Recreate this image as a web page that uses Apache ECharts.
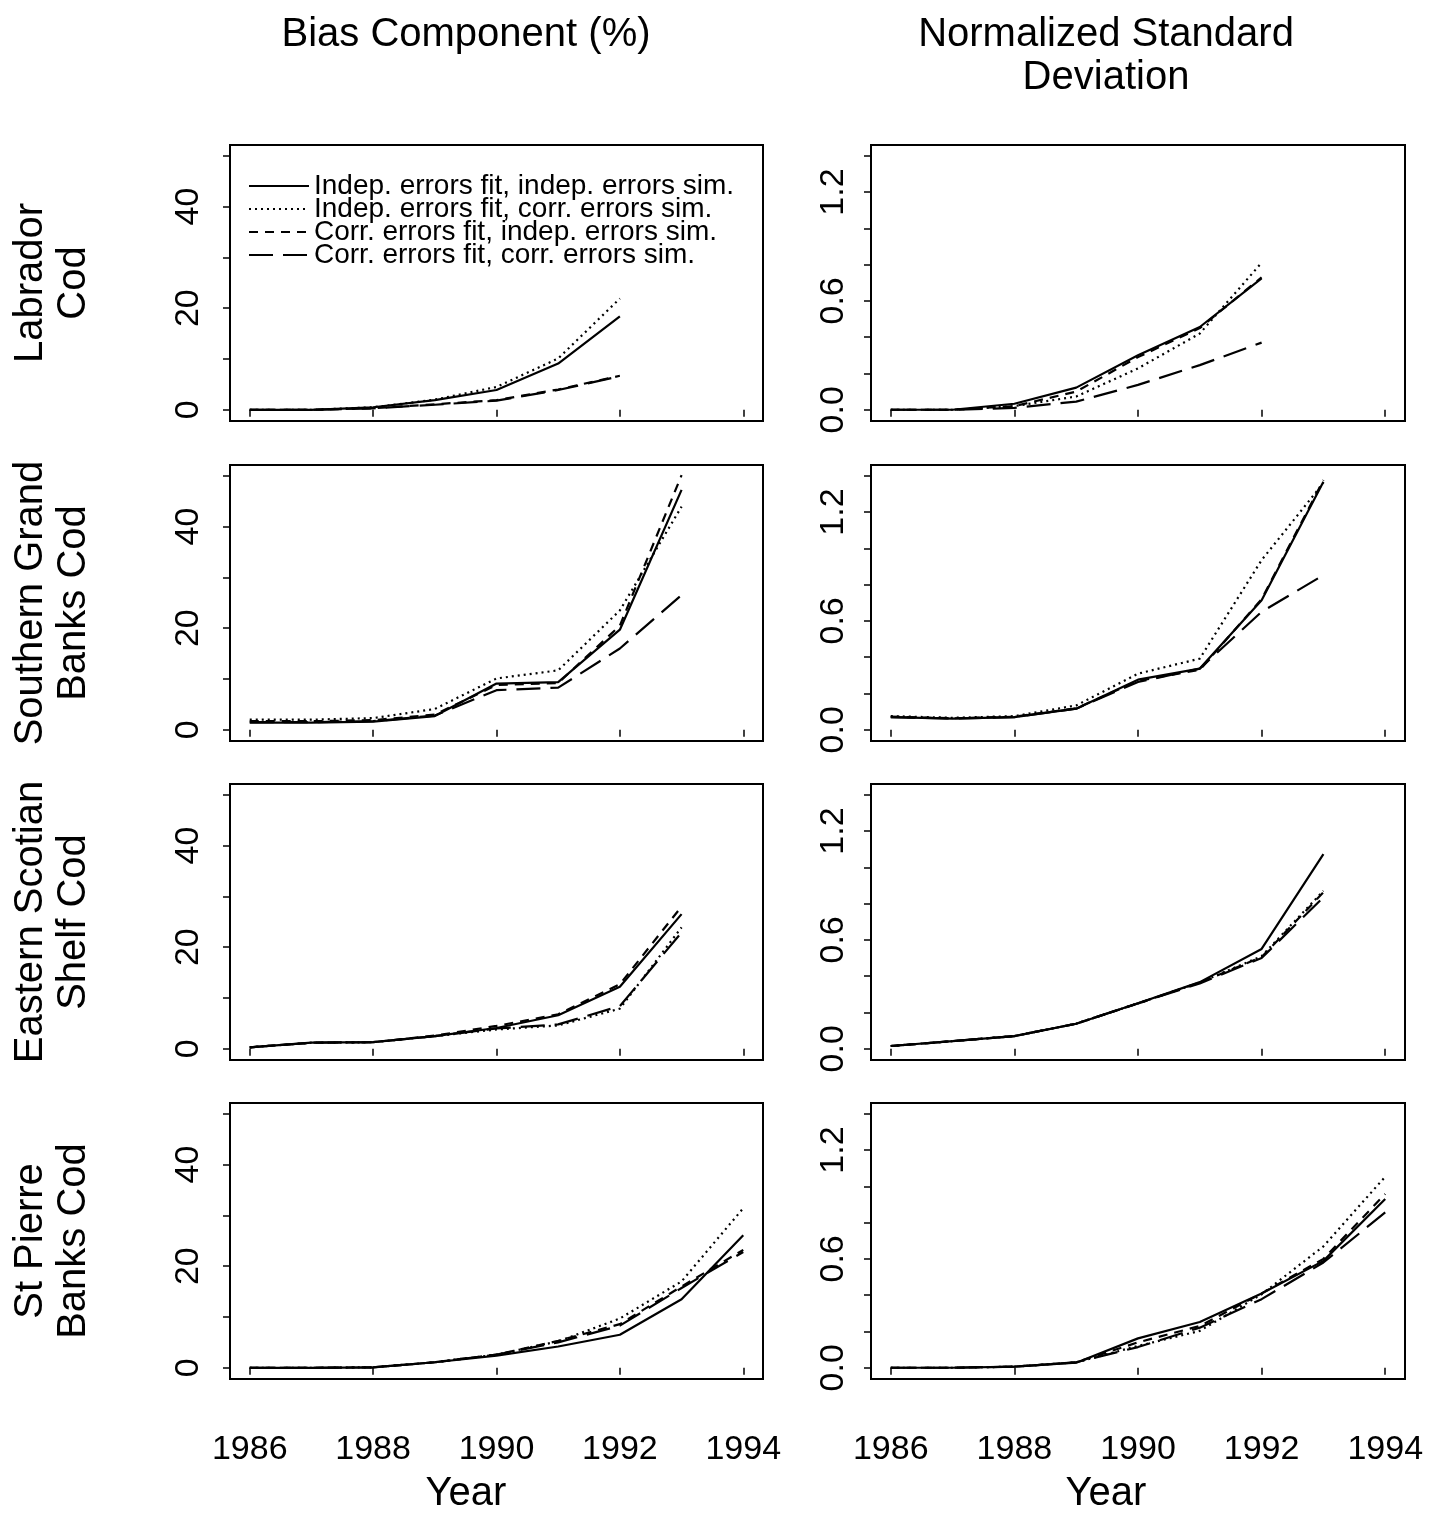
<!DOCTYPE html>
<html>
<head>
<meta charset="utf-8">
<script src="https://cdn.jsdelivr.net/npm/echarts@6/dist/echarts.min.js"></script>
<style>
html,body{margin:0;padding:0;background:#fff;}
#chart{width:1442px;height:1514px;}
</style>
</head>
<body>
<div id="chart"></div>
<script>
// ---------- data ----------
const years = [1986, 1987, 1988, 1989, 1990, 1991, 1992, 1993, 1994];
const seriesNames = [
  'Indep. errors fit, indep. errors sim.',
  'Indep. errors fit, corr. errors sim.',
  'Corr. errors fit, indep. errors sim.',
  'Corr. errors fit, corr. errors sim.'
];
const columnTitles = ['Bias Component (%)', 'Normalized Standard\nDeviation'];
const rowLabels = ['Labrador\nCod', 'Southern Grand\nBanks Cod', 'Eastern Scotian\nShelf Cod', 'St Pierre\nBanks Cod'];
const xAxisTitle = 'Year';
const xTicks = [1986, 1988, 1990, 1992, 1994];
const biasTicks = [0, 10, 20, 30, 40, 50];
const biasLabels = [0, 20, 40];
const nsdTicks = [0, 0.2, 0.4, 0.6, 0.8, 1.0, 1.2, 1.4];
const nsdLabels = [0, 0.6, 1.2];

// Labrador Cod (1986-1992)
const labBiasIndInd = [0, 0, 0.5, 1.9, 3.9, 9.1, 18.4];
const labBiasIndCorr = [0, 0, 0.5, 2.0, 4.5, 10.1, 21.9];
const labBiasCorrInd = [0, 0, 0.3, 1.1, 1.9, 4.0, 6.7];
const labBiasCorrCorr = [0, 0, 0.3, 1.0, 1.8, 3.9, 6.6];
const labNsdIndInd = [0, 0, 0.033, 0.122, 0.30, 0.456, 0.724];
const labNsdIndCorr = [0, 0, 0.02, 0.073, 0.228, 0.42, 0.81];
const labNsdCorrInd = [0, 0, 0.02, 0.10, 0.29, 0.45, 0.73];
const labNsdCorrCorr = [0, 0, 0.01, 0.045, 0.137, 0.246, 0.37];

// Southern Grand Banks Cod (1986-1993)
const sgbBiasIndInd = [1.4, 1.4, 1.6, 2.7, 9.1, 9.4, 19.7, 47.2];
const sgbBiasIndCorr = [2.0, 2.0, 2.3, 4.1, 10.1, 11.7, 23.5, 43.9];
const sgbBiasCorrInd = [1.7, 1.7, 1.9, 3.0, 8.8, 9.2, 20.5, 50.1];
const sgbBiasCorrCorr = [1.5, 1.5, 1.7, 2.8, 7.8, 8.3, 16.0, 26.5];
const sgbNsdIndInd = [0.07, 0.061, 0.07, 0.116, 0.276, 0.337, 0.714, 1.367];
const sgbNsdIndCorr = [0.075, 0.066, 0.075, 0.134, 0.309, 0.392, 0.935, 1.36];
const sgbNsdCorrInd = [0.072, 0.063, 0.072, 0.118, 0.27, 0.33, 0.72, 1.376];
const sgbNsdCorrCorr = [0.07, 0.062, 0.07, 0.116, 0.263, 0.337, 0.65, 0.852];

// Eastern Scotian Shelf Cod (1986-1993)
const essBiasIndInd = [0.3, 1.2, 1.3, 2.5, 4.1, 6.6, 12.2, 26.5];
const essBiasIndCorr = [0.3, 1.2, 1.3, 2.5, 3.8, 4.6, 7.9, 23.9];
const essBiasCorrInd = [0.3, 1.2, 1.3, 2.6, 4.5, 6.8, 12.7, 28.0];
const essBiasCorrCorr = [0.3, 1.2, 1.3, 2.5, 4.0, 4.8, 8.4, 22.9];
const essNsdIndInd = [0.015, 0.042, 0.07, 0.138, 0.251, 0.367, 0.55, 1.073];
const essNsdIndCorr = [0.015, 0.042, 0.07, 0.138, 0.25, 0.365, 0.51, 0.87];
const essNsdCorrInd = [0.015, 0.042, 0.07, 0.138, 0.25, 0.365, 0.505, 0.862];
const essNsdCorrCorr = [0.015, 0.042, 0.07, 0.138, 0.25, 0.36, 0.5, 0.835];

// St Pierre Banks Cod (1986-1994)
const spbBiasIndInd = [0, 0, 0.1, 1.1, 2.4, 4.2, 6.5, 13.5, 26.1];
const spbBiasIndCorr = [0, 0, 0.1, 1.1, 2.6, 5.2, 9.7, 17.0, 31.4];
const spbBiasCorrInd = [0, 0, 0.1, 1.1, 2.6, 5.3, 8.6, 16.0, 23.2];
const spbBiasCorrCorr = [0, 0, 0.1, 1.1, 2.6, 5.0, 8.3, 15.7, 22.8];
const spbNsdIndInd = [0, 0, 0.006, 0.028, 0.162, 0.252, 0.409, 0.589, 0.93];
const spbNsdIndCorr = [0, 0, 0.006, 0.03, 0.12, 0.203, 0.405, 0.669, 1.053];
const spbNsdCorrInd = [0, 0, 0.006, 0.03, 0.14, 0.23, 0.41, 0.6, 0.958];
const spbNsdCorrCorr = [0, 0, 0.006, 0.03, 0.114, 0.221, 0.378, 0.58, 0.856];

// ---------- layout ----------
const FONT = '"Liberation Sans", Arial, Helvetica, sans-serif';
const panels = [
  [labBiasIndInd, labBiasIndCorr, labBiasCorrInd, labBiasCorrCorr],
  [labNsdIndInd, labNsdIndCorr, labNsdCorrInd, labNsdCorrCorr],
  [sgbBiasIndInd, sgbBiasIndCorr, sgbBiasCorrInd, sgbBiasCorrCorr],
  [sgbNsdIndInd, sgbNsdIndCorr, sgbNsdCorrInd, sgbNsdCorrCorr],
  [essBiasIndInd, essBiasIndCorr, essBiasCorrInd, essBiasCorrCorr],
  [essNsdIndInd, essNsdIndCorr, essNsdCorrInd, essNsdCorrCorr],
  [spbBiasIndInd, spbBiasIndCorr, spbBiasCorrInd, spbBiasCorrCorr],
  [spbNsdIndInd, spbNsdIndCorr, spbNsdCorrInd, spbNsdCorrCorr]
];
const rowTops = [145, 465, 784, 1103];
const rowH = 276;
const colLefts = [230, 871];
const colW = [533, 534];
const lineTypes = ['solid', [2, 4], [9, 7], [24, 10]];

const grids = [], xAxes = [], yAxes = [], series = [];
for (let r = 0; r < 4; r++) {
  for (let c = 0; c < 2; c++) {
    const gi = r * 2 + c;
    grids.push({
      left: colLefts[c], top: rowTops[r], width: colW[c], height: rowH,
      show: true, borderColor: '#000', borderWidth: 2, backgroundColor: 'transparent'
    });
    const bottomRow = r === 3;
    xAxes.push({
      type: 'value', gridIndex: gi, min: 1985.68, max: 1994.32,
      axisLine: { show: false },
      splitLine: { show: false },
      axisTick: { show: true, customValues: xTicks, length: 7, lineStyle: { color: '#000', width: 1.5 } },
      axisLabel: {
        show: bottomRow, customValues: xTicks, margin: 54, fontSize: 34,
        fontFamily: FONT, color: '#000', formatter: v => String(v)
      }
    });
    const isBias = c === 0;
    yAxes.push({
      type: 'value', gridIndex: gi,
      min: isBias ? -2.2 : -0.062, max: isBias ? 52.1 : 1.459,
      axisLine: { show: false },
      splitLine: { show: false },
      axisTick: { show: true, customValues: isBias ? biasTicks : nsdTicks, length: 7, lineStyle: { color: '#000', width: 1.5 } },
      axisLabel: {
        show: true, customValues: isBias ? biasLabels : nsdLabels, rotate: 90,
        margin: isBias ? 24 : 20, fontSize: 34, fontFamily: FONT, color: '#000',
        formatter: v => isBias ? String(Math.round(v)) : Number(v).toFixed(1)
      }
    });
    panels[gi].forEach((arr, si) => {
      series.push({
        type: 'line', name: seriesNames[si], xAxisIndex: gi, yAxisIndex: gi,
        data: arr.map((v, i) => [years[i], v]),
        showSymbol: false, symbol: 'none', silent: true, animation: false,
        lineStyle: { color: '#000', width: 2.2, type: lineTypes[si] },
        itemStyle: { color: '#000' },
        z: 4 - si
      });
    });
  }
}

const graphics = [];
// column titles
[466, 1106].forEach((x, i) => {
  graphics.push({
    type: 'text', x: x, y: 13,
    style: { text: columnTitles[i], fontSize: 40, fontFamily: FONT, fill: '#000',
             align: 'center', verticalAlign: 'top', lineHeight: 43 }
  });
});
// x axis titles
[466, 1106].forEach((x) => {
  graphics.push({
    type: 'text', x: x, y: 1494,
    style: { text: xAxisTitle, fontSize: 40, fontFamily: FONT, fill: '#000',
             align: 'center', verticalAlign: 'middle' }
  });
});
// row labels (rotated)
rowLabels.forEach((t, r) => {
  const cy = rowTops[r] + rowH / 2;
  graphics.push({
    type: 'text', x: 52, y: cy, rotation: Math.PI / 2,
    style: { text: t, fontSize: 40, fontFamily: FONT, fill: '#000',
             align: 'center', verticalAlign: 'middle', lineHeight: 43 }
  });
});

const chart = echarts.init(document.getElementById('chart'), null, { renderer: 'canvas' });
chart.setOption({
  backgroundColor: '#fff',
  animation: false,
  grid: grids,
  xAxis: xAxes,
  yAxis: yAxes,
  legend: {
    data: seriesNames, orient: 'vertical', left: 248, top: 172, padding: 0,
    itemWidth: 60, itemHeight: 14, itemGap: -5,
    itemStyle: { opacity: 0 },
    lineStyle: { width: 2 },
    textStyle: { fontSize: 28, fontFamily: FONT, color: '#000', lineHeight: 22 },
    selectedMode: false, inactiveColor: '#000'
  },
  graphic: graphics,
  series: series
});
</script>
</body>
</html>
